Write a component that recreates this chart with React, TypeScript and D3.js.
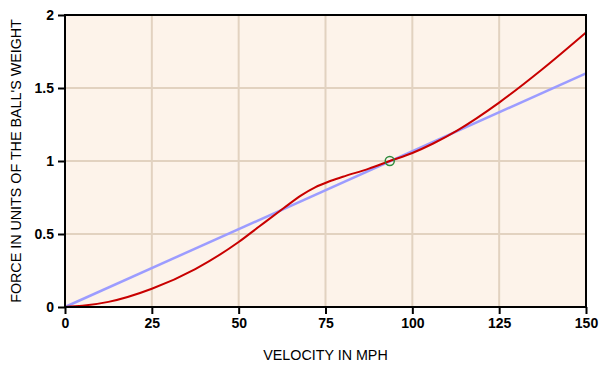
import { useRef, useEffect } from "react";
import * as d3 from "d3";

// red curve: measured force vs velocity
const velocity = [0, 5, 12.5, 25, 37.5, 50, 56, 63, 68, 72, 76, 80, 87.5, 93.5, 100, 106, 113, 125, 137.5, 150];
const force = [0, 0.008, 0.035, 0.125, 0.26, 0.445, 0.553, 0.678, 0.765, 0.82, 0.86, 0.892, 0.948, 1.0, 1.055, 1.12, 1.21, 1.4, 1.63, 1.88];

// blue reference line
const lineX = [0, 150];
const lineY = [0, 1.6];

const marker = { v: 93.5, f: 1.0 };

const xTicks = [0, 25, 50, 75, 100, 125, 150];
const yTicks = [0, 0.5, 1, 1.5, 2];

export default function App() {
    const svgRef = useRef<SVGSVGElement | null>(null);
    const width = 605;
    const height = 370;

    useEffect(() => {
        if (!svgRef.current) return;
        const svg = d3.select(svgRef.current);
        svg.selectAll("*").remove();

        const margin = { top: 15, right: 19, bottom: 63, left: 65 };
        const font = "Liberation Sans, Arial, sans-serif";

        const x = d3.scaleLinear().domain([0, 150]).range([margin.left, width - margin.right]);
        const y = d3.scaleLinear().domain([0, 2]).range([height - margin.bottom, margin.top]);

        // background
        svg.append("rect")
            .attr("x", x(0)).attr("y", y(2))
            .attr("width", x(150) - x(0)).attr("height", y(0) - y(2))
            .attr("fill", "#fdf3ea");

        // grid
        const grid = svg.append("g");
        grid.selectAll("line.v")
            .data(xTicks.slice(1, -1))
            .enter().append("line")
            .attr("x1", d => x(d)).attr("x2", d => x(d))
            .attr("y1", y(0)).attr("y2", y(2))
            .attr("stroke", "#e2d2c0").attr("stroke-width", 2);
        grid.selectAll("line.h")
            .data(yTicks.slice(1, -1))
            .enter().append("line")
            .attr("x1", x(0)).attr("x2", x(150))
            .attr("y1", d => y(d)).attr("y2", d => y(d))
            .attr("stroke", "#e2d2c0").attr("stroke-width", 2);

        // blue line
        const straight = d3.line<number>().x((_, i) => x(lineX[i])).y(d => y(d));
        svg.append("path")
            .attr("d", straight(lineY))
            .attr("fill", "none")
            .attr("stroke", "#9c9cff")
            .attr("stroke-width", 2.5);

        // red curve
        const curve = d3.line<number>()
            .x((_, i) => x(velocity[i]))
            .y(d => y(d))
            .curve(d3.curveMonotoneX);
        svg.append("path")
            .attr("d", curve(force))
            .attr("fill", "none")
            .attr("stroke", "#c80000")
            .attr("stroke-width", 2);

        // marker
        svg.append("circle")
            .attr("cx", x(marker.v)).attr("cy", y(marker.f))
            .attr("r", 4.5)
            .attr("fill", "none")
            .attr("stroke", "#2e8b3e")
            .attr("stroke-width", 1.5);

        // frame
        svg.append("rect")
            .attr("x", x(0)).attr("y", y(2))
            .attr("width", x(150) - x(0)).attr("height", y(0) - y(2))
            .attr("fill", "none")
            .attr("stroke", "#000")
            .attr("stroke-width", 2);

        // axes
        const xAxis = svg.append("g")
            .attr("transform", `translate(0,${y(0)})`)
            .call(d3.axisBottom(x).tickValues(xTicks).tickSize(7).tickPadding(4).tickFormat(d3.format("d")));
        const yAxis = svg.append("g")
            .attr("transform", `translate(${x(0)},0)`)
            .call(d3.axisLeft(y).tickValues(yTicks).tickSize(7).tickPadding(4).tickFormat(d => String(d)));

        [xAxis, yAxis].forEach(g => {
            g.select(".domain").remove();
            g.selectAll("line").attr("stroke", "#000").attr("stroke-width", 2);
            g.selectAll("text")
                .attr("fill", "#000")
                .attr("font-family", font)
                .attr("font-size", 14)
                .attr("font-weight", "bold");
        });

        svg.append("text")
            .attr("x", (x(0) + x(150)) / 2)
            .attr("y", 360)
            .attr("text-anchor", "middle")
            .attr("font-family", font)
            .attr("font-size", 14.3)
            .text("VELOCITY IN MPH");

        svg.append("text")
            .attr("transform", `translate(21,${(y(0) + y(2)) / 2}) rotate(-90)`)
            .attr("text-anchor", "middle")
            .attr("font-family", font)
            .attr("font-size", 14.3)
            .text("FORCE IN UNITS OF THE BALL'S WEIGHT");
    }, []);

    return (
        <svg ref={svgRef} width={width} height={height}
            style={{ position: "absolute", left: 0, top: 0, background: "#fff" }} />
    );
}
